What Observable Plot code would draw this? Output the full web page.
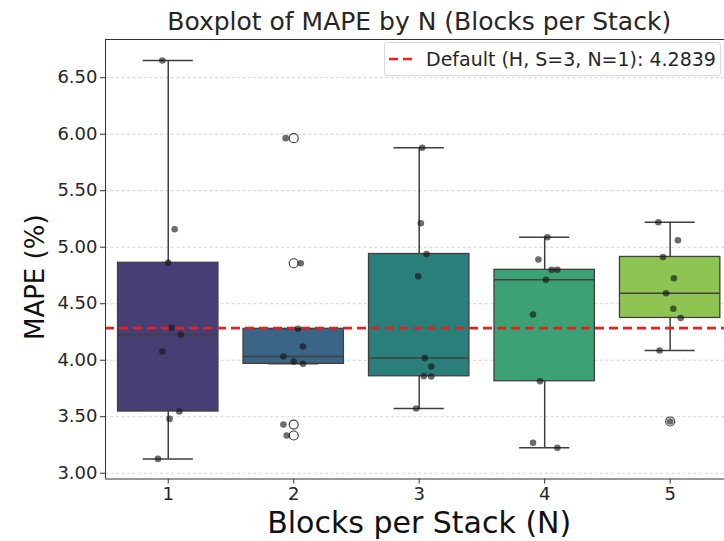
<!DOCTYPE html>
<html><head><meta charset="utf-8">
<script src="https://cdn.jsdelivr.net/npm/d3@7"></script>
<script src="https://cdn.jsdelivr.net/npm/@observablehq/plot@0.6"></script>
<style>
body{margin:0;overflow:hidden;background:#fff;font-family:"DejaVu Sans",sans-serif}
#wrap{position:relative;width:724px;height:541px;overflow:hidden}
#legend{position:absolute;left:384px;top:42px;width:337px;height:34px;box-sizing:border-box;border:1px solid #d9d9d9;border-radius:3px;background:rgba(255,255,255,0.85);display:flex;align-items:center;font-size:19px;color:#262626;white-space:nowrap}
#legend svg{margin:0 12px 0 4px}
</style></head><body><div id="wrap"></div>
<script>
const categories = [1, 2, 3, 4, 5];
const mape1 = [6.652, 5.159, 4.862, 4.287, 4.225, 4.077, 3.546, 3.481, 3.127];
const mape2 = [5.965, 4.858, 4.278, 4.121, 4.033, 3.988, 3.968, 3.431, 3.334];
const mape3 = [5.880, 5.212, 4.940, 4.743, 4.020, 3.944, 3.858, 3.856, 3.573];
const mape4 = [5.088, 4.891, 4.800, 4.800, 4.711, 4.404, 3.814, 3.269, 3.225];
const mape5 = [5.221, 5.062, 4.914, 4.726, 4.593, 4.455, 4.374, 4.086, 3.458];
// strip-plot jitter (in category units)
const jitter1 = [-0.047, 0.051, 0, 0.027, 0.099, -0.047, 0.088, 0.011, -0.082];
const jitter2 = [-0.064, 0.056, 0.034, 0.074, -0.082, 0, 0.074, -0.082, -0.056];
const jitter3 = [0.024, 0.013, 0.058, -0.008, 0.045, 0.096, 0.037, 0.096, -0.024];
const jitter4 = [0.021, -0.05, 0.056, 0.101, 0.01, -0.093, -0.037, -0.093, 0.101];
const jitter5 = [-0.094, 0.062, -0.057, 0.03, -0.033, 0.025, 0.084, -0.084, 0];
const colors = ["#483e76", "#3a6587", "#2b7f7a", "#3da273", "#8dc452"];
const defaultValue = 4.2839;
const yTicks = [3.0, 3.5, 4.0, 4.5, 5.0, 5.5, 6.0, 6.5];
const legendLabel = "Default (H, S=3, N=1): 4.2839";

const series = [mape1, mape2, mape3, mape4, mape5];
const jitters = [jitter1, jitter2, jitter3, jitter4, jitter5];

const points = [];
const stats = [];
const outliers = [];
categories.forEach((n, i) => {
  const vals = series[i];
  vals.forEach((v, j) => points.push({n, v, jit: jitters[i][j]}));
  const s = vals.slice().sort(d3.ascending);
  const q1 = d3.quantile(s, 0.25), med = d3.quantile(s, 0.5), q3 = d3.quantile(s, 0.75);
  const iqr = q3 - q1;
  const lo = d3.min(s.filter(v => v >= q1 - 1.5 * iqr));
  const hi = d3.max(s.filter(v => v <= q3 + 1.5 * iqr));
  stats.push({n, q1, med, q3, lo, hi, color: colors[i]});
  s.filter(v => v < lo || v > hi).forEach(v => outliers.push({n, v}));
});

const edge = "#3f3f3f";
const chart = Plot.plot({
  width: 724, height: 541,
  marginLeft: 105, marginRight: -8.4, marginTop: 39, marginBottom: 62.5,
  style: {fontFamily: "DejaVu Sans", background: "white", color: "#262626"},
  x: {domain: [0.5, 5.5]},
  y: {domain: [2.949, 6.838]},
  marks: [
    Plot.ruleY(yTicks, {stroke: "#c8c8c8", strokeWidth: 0.8, strokeDasharray: "3,2.5"}),
    Plot.rect(stats, {x1: d => d.n - 0.4, x2: d => d.n + 0.4, y1: "q1", y2: "q3", fill: "color", stroke: edge, strokeWidth: 1.3}),
    Plot.ruleX(stats, {x: "n", y1: "q3", y2: "hi", stroke: edge, strokeWidth: 1.5}),
    Plot.ruleX(stats, {x: "n", y1: "lo", y2: "q1", stroke: edge, strokeWidth: 1.5}),
    Plot.ruleY(stats, {y: "hi", x1: d => d.n - 0.2, x2: d => d.n + 0.2, stroke: edge, strokeWidth: 1.5}),
    Plot.ruleY(stats, {y: "lo", x1: d => d.n - 0.2, x2: d => d.n + 0.2, stroke: edge, strokeWidth: 1.5}),
    Plot.ruleY(stats, {y: "med", x1: d => d.n - 0.4, x2: d => d.n + 0.4, stroke: edge, strokeWidth: 1.5}),
    Plot.dot(outliers, {x: "n", y: "v", r: 4.5, fill: "white", stroke: edge, strokeWidth: 1.2}),
    Plot.ruleY([defaultValue], {stroke: "#ee1c1c", strokeWidth: 2.6, strokeDasharray: "9,5"}),
    Plot.dot(points, {x: d => d.n + d.jit, y: "v", r: 3.3, fill: "#111", fillOpacity: 0.62, stroke: "none"}),
    Plot.ruleX([0.5], {stroke: "#333", strokeWidth: 1}),
    Plot.ruleY([2.949, 6.838], {stroke: "#333", strokeWidth: 1}),
    Plot.axisY({ticks: yTicks, tickFormat: d3.format(".2f"), tickSize: 5, tickPadding: 3, fontSize: 18, label: null, stroke: "#333"}),
    Plot.axisX({ticks: categories, tickFormat: d3.format("d"), tickSize: 5, tickPadding: 3, fontSize: 18, label: null, stroke: "#333"}),
    Plot.text(["Boxplot of MAPE by N (Blocks per Stack)"], {frameAnchor: "top", lineAnchor: "middle", dy: -18, fontSize: 25, fill: "#262626"}),
    Plot.text(["Blocks per Stack (N)"], {frameAnchor: "bottom", lineAnchor: "middle", dy: 44, fontSize: 30, fill: "#111"}),
    Plot.text(["MAPE (%)"], {frameAnchor: "left", lineAnchor: "middle", dx: -70, dy: 18, rotate: -90, textAnchor: "middle", fontSize: 26, fill: "#111"})
  ]
});
const wrap = document.getElementById("wrap");
wrap.appendChild(chart);
const leg = document.createElement("div");
leg.id = "legend";
leg.innerHTML = `<svg width="25" height="6"><line x1="0" y1="3" x2="25" y2="3" stroke="#ee1c1c" stroke-width="2.6" stroke-dasharray="9,5"/></svg><span>${legendLabel}</span>`;
wrap.appendChild(leg);
</script>
</body></html>
